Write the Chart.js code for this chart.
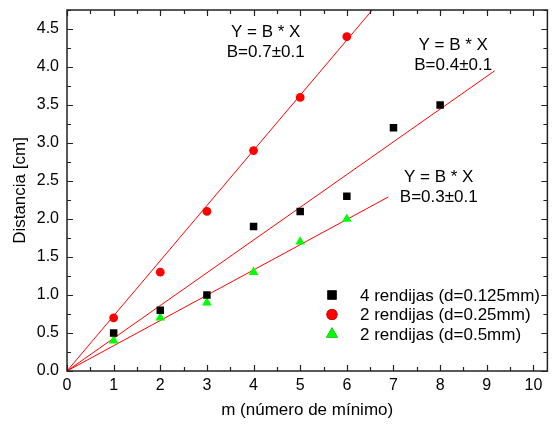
<!DOCTYPE html>
<html>
<head>
<meta charset="utf-8">
<script src="https://cdn.jsdelivr.net/npm/chart.js@4.4.1/dist/chart.umd.min.js"></script>
<style>
  html, body { margin: 0; padding: 0; background: #fff; }
  #wrap { width: 553px; height: 426px; }
</style>
</head>
<body>
<div id="wrap"><canvas id="grafico"></canvas></div>
<script>
// datos medidos
const m4 = [1, 2, 3, 4, 5, 6, 7, 8];
const dist4 = [0.5, 0.8, 1.0, 1.9, 2.1, 2.3, 3.2, 3.5];
const m2a = [1, 2, 3, 4, 5, 6];
const dist2a = [0.7, 1.3, 2.1, 2.9, 3.6, 4.4];
const m2b = [1, 2, 3, 4, 5, 6];
const dist2b = [0.4, 0.7, 0.9, 1.3, 1.7, 2.0];

// rectas de ajuste (extremos)
const ajusteX4 = [0, 9.17];
const ajusteY4 = [0, 3.95];
const ajusteX2a = [0, 7.0];
const ajusteY2a = [0, 5.08];
const ajusteX2b = [0, 6.89];
const ajusteY2b = [0, 2.29];

const etiquetas = ['4 rendijas (d=0.125mm)', '2 rendijas (d=0.25mm)', '2 rendijas (d=0.5mm)'];
const ecuaciones = [
  ['Y = B * X', 'B=0.7±0.1'],
  ['Y = B * X', 'B=0.4±0.1'],
  ['Y = B * X', 'B=0.3±0.1']
];
// posicion de cada ecuacion en unidades de los ejes
const ecuacionX = [4.26, 8.28, 7.97];
const ecuacionY = [4.45, 4.28, 2.55];

const FUENTE = 'Arial, "Liberation Sans", sans-serif';
const ROJO = '#ff0000';
const VERDE = '#00ff00';

function puntos(xs, ys) {
  return xs.map((x, i) => ({ x: x, y: ys[i] }));
}

function recta(xs, ys) {
  return {
    data: puntos(xs, ys),
    showLine: true,
    borderColor: ROJO,
    borderWidth: 1,
    pointRadius: 0,
    fill: false,
    order: 2
  };
}

// simbolos de la leyenda (algo mas grandes que en el grafico)
const estilos = [
  { pointStyle: 'rect', radius: 6.5, color: '#000' },
  { pointStyle: 'circle', radius: 5.5, color: ROJO },
  { pointStyle: 'triangle', radius: 6.8, color: VERDE }
];

// marco, marcas hacia dentro, ecuaciones y leyenda
const extras = {
  id: 'extras',
  afterDatasetsDraw(chart) {
    const ctx = chart.ctx;
    const a = chart.chartArea;
    const sx = chart.scales.x;
    const sy = chart.scales.y;
    ctx.save();
    ctx.strokeStyle = '#222';
    ctx.lineWidth = 1.5;
    ctx.strokeRect(a.left, a.top, a.right - a.left, a.bottom - a.top);

    ctx.lineWidth = 1.2;
    ctx.beginPath();
    for (let v = 0; v <= 10.3; v += 0.5) {
      const px = Math.round(sx.getPixelForValue(v)) + 0.5;
      const len = (v % 1 === 0) ? 6 : 4;
      ctx.moveTo(px, a.bottom); ctx.lineTo(px, a.bottom - len);
      ctx.moveTo(px, a.top); ctx.lineTo(px, a.top + len);
    }
    for (let v = 0; v <= 4.75; v += 0.25) {
      const py = Math.round(sy.getPixelForValue(v)) + 0.5;
      const len = (Math.abs(v * 2 - Math.round(v * 2)) < 1e-6) ? 6 : 4;
      ctx.moveTo(a.left, py); ctx.lineTo(a.left + len, py);
      ctx.moveTo(a.right, py); ctx.lineTo(a.right - len, py);
    }
    ctx.stroke();

    // ecuaciones
    ctx.fillStyle = '#000';
    ctx.font = '17px ' + FUENTE;
    ctx.textAlign = 'center';
    ctx.textBaseline = 'middle';
    ecuaciones.forEach((lineas, i) => {
      const cx = sx.getPixelForValue(ecuacionX[i]);
      const cy = sy.getPixelForValue(ecuacionY[i]);
      lineas.forEach((t, j) => ctx.fillText(t, cx, cy + j * 20));
    });

    // leyenda
    ctx.textAlign = 'left';
    etiquetas.forEach((t, i) => {
      const mx = a.left + 265;
      const my = a.bottom - 76 + i * 19.5;
      const e = estilos[i];
      Chart.helpers.drawPoint(ctx, {
        pointStyle: e.pointStyle, radius: e.radius, rotation: 0, borderWidth: 0
      }, mx, my);
      ctx.fillStyle = e.color;
      ctx.fill();
      ctx.fillStyle = '#000';
      ctx.fillText(t, a.left + 293, my + 1);
    });
    ctx.restore();
  }
};

const datasets = [
  {
    label: etiquetas[0], data: puntos(m4, dist4),
    pointStyle: 'rect', pointRadius: 5.3, backgroundColor: '#000', borderWidth: 0, order: 1
  },
  {
    label: etiquetas[1], data: puntos(m2a, dist2a),
    pointStyle: 'circle', pointRadius: 4.4, backgroundColor: ROJO, borderWidth: 0, order: 1
  },
  {
    label: etiquetas[2], data: puntos(m2b, dist2b),
    pointStyle: 'triangle', pointRadius: 5.6, backgroundColor: VERDE, borderWidth: 0, order: 1
  },
  recta(ajusteX2a, ajusteY2a),
  recta(ajusteX4, ajusteY4),
  recta(ajusteX2b, ajusteY2b)
];

new Chart(document.getElementById('grafico'), {
  type: 'scatter',
  data: { datasets: datasets },
  plugins: [extras],
  options: {
    responsive: true,
    maintainAspectRatio: false,
    animation: false,
    layout: { padding: { top: 10, right: 0, left: 0, bottom: 0 } },
    plugins: {
      legend: { display: false },
      tooltip: { enabled: false }
    },
    scales: {
      x: {
        type: 'linear',
        min: 0,
        max: 10.3,
        afterFit: (s) => { s.height = 55; s.paddingLeft = 0; s.paddingRight = 0; },
        grid: { display: false, drawTicks: false },
        border: { display: false },
        ticks: {
          stepSize: 1,
          includeBounds: false,
          padding: 5,
          color: '#000',
          maxRotation: 0,
          font: { family: FUENTE, size: 16 }
        },
        title: {
          display: true,
          text: 'm (número de mínimo)',
          color: '#000',
          font: { family: FUENTE, size: 17 },
          padding: { top: 0, bottom: 5 }
        }
      },
      y: {
        type: 'linear',
        min: 0,
        max: 4.75,
        afterFit: (s) => { s.width = 67; s.paddingTop = 0; s.paddingBottom = 0; },
        grid: { display: false, drawTicks: false },
        border: { display: false },
        ticks: {
          stepSize: 0.5,
          includeBounds: false,
          padding: 8,
          color: '#000',
          font: { family: FUENTE, size: 16 },
          callback: (v) => Number(v).toFixed(1)
        },
        title: {
          display: true,
          text: 'Distancia [cm]',
          color: '#000',
          font: { family: FUENTE, size: 17 },
          padding: { top: 10, bottom: 0 }
        }
      }
    }
  }
});
</script>
</body>
</html>
